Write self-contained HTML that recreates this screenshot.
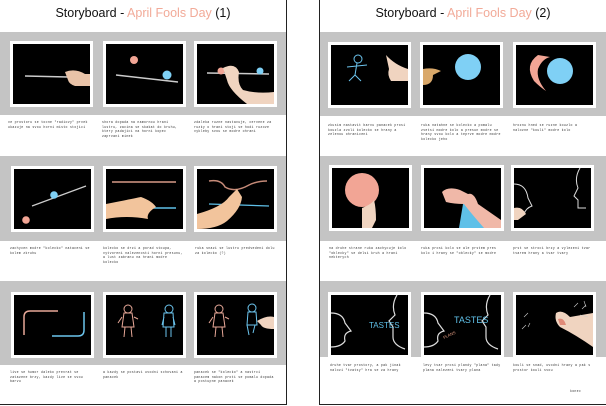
<!DOCTYPE html>
<html><head><style>
body{margin:0;width:606px;height:406px;background:#fff;position:relative;overflow:hidden;font-family:"Liberation Sans",sans-serif}
.pg{position:absolute;top:0;height:405px;background:#fff;border:1px solid #222;border-top:none;box-sizing:border-box}
.t{position:absolute;top:6px;width:100%;text-align:center;font-size:12.5px;color:#111}
.t span{color:#f2aa98}
.g{position:absolute;left:0;right:0;background:#c4c4c4}
.f{position:absolute;width:77px;height:60px;background:#000;border:3px solid #fff}
.n{position:absolute;font-size:3px;color:#333}
.c{position:absolute;font-size:3.2px;line-height:4.5px;color:#333;width:80px;letter-spacing:.3px;font-family:"Liberation Mono",monospace}
svg{position:absolute;left:0;top:0}
</style></head><body>
<!-- LEFT PAGE -->
<div class="pg" style="left:0;width:287px;border-left:none">
<div class="t">Storyboard - <span>April Fools Day</span> (1)</div>
<div class="g" style="top:32px;height:83px"></div>
<div class="g" style="top:156px;height:85px"></div>
<div class="g" style="top:281px;height:84px"></div>

<div class="f" style="left:10px;top:41px"><svg width="77" height="60"><line x1="12" y1="32" x2="55" y2="33" stroke="#ccc" stroke-width="1.5"/><path d="M52 28 Q62 24 72 30 L77 30 77 42 62 42 Q56 40 55 36Z" fill="#e9c3a8"/></svg></div>
<div class="f" style="left:103px;top:41px"><svg width="77" height="60"><circle cx="28" cy="16" r="4" fill="#f2a595"/><line x1="10" y1="31" x2="72" y2="38" stroke="#ccc" stroke-width="1.5"/><circle cx="61" cy="31" r="4.5" fill="#7fd0f5"/></svg></div>
<div class="f" style="left:194px;top:41px"><svg width="77" height="60"><line x1="10" y1="29" x2="72" y2="30" stroke="#ccc" stroke-width="1.5"/><circle cx="24" cy="27" r="3.5" fill="#f2a595"/><circle cx="63" cy="27" r="3.5" fill="#7fd0f5"/><path d="M26 24 Q38 18 42 28 Q40 40 46 46 Q60 50 77 48 L77 60 50 60 Q32 46 30 36Z" fill="#f0d4c0"/></svg></div>
<div class="c" style="left:8px;top:120px">ve prostoru se tocne "radiovy" prvek ukazuje na svou horni misto stojici</div>
<div class="c" style="left:102px;top:120px">shora dopada na namornou hrani lustru, zacina se skakat do kruhu, ktery padajici na horni kopec zaprvani minek</div>
<div class="c" style="left:194px;top:120px">zdaleka ruzne nastavuje, cervene za ruzky o hrani stoji se hodi ruzove vykleby svou se modre ohrani</div>

<div class="f" style="left:11px;top:166px"><svg width="77" height="60"><line x1="18" y1="37" x2="72" y2="17" stroke="#ccc" stroke-width="1.2"/><circle cx="40" cy="26" r="3.8" fill="#7fd0f5"/><circle cx="12" cy="51" r="3.8" fill="#f2a595"/></svg></div>
<div class="f" style="left:103px;top:166px"><svg width="77" height="60"><line x1="6" y1="13" x2="70" y2="13" stroke="#d79a88" stroke-width="1.5"/><line x1="44" y1="39" x2="70" y2="39" stroke="#5fc0e8" stroke-width="1.5"/><path d="M0 35 Q25 30 35 28 Q46 32 50 38 Q40 44 42 50 Q20 46 0 50Z" fill="#f2c49c"/></svg></div>
<div class="f" style="left:194px;top:166px"><svg width="77" height="60"><path d="M12 12 Q24 10 28 18 Q38 24 52 16 Q60 12 70 12" stroke="#c58a78" fill="none" stroke-width="1.5"/><line x1="12" y1="35" x2="72" y2="37" stroke="#5fc0e8" stroke-width="1.3"/><path d="M0 45 Q25 38 32 28 L40 20 45 28 Q44 40 30 52 Q20 60 0 60Z" fill="#f2c49c"/></svg></div>
<div class="c" style="left:10px;top:246px">zachycen modre "kolecko" nataceni se kolem zkruhu</div>
<div class="c" style="left:103px;top:246px">kolecko se drzi a porad stoupa, vytvoreni nalezenosti horni presunu, a lust zabranu na hrani modre kolecko</div>
<div class="c" style="left:195px;top:246px">ruka snazi se lustru predvedeni dolu za kolecko (?)</div>

<div class="f" style="left:11px;top:292px"><svg width="77" height="60"><path d="M10 40 L10 22 Q10 16 16 16 L44 16" stroke="#e7a898" fill="none" stroke-width="1.5"/><path d="M38 41 L64 41 Q70 41 70 35 L70 17" stroke="#6cc5ee" fill="none" stroke-width="1.5"/></svg></div>
<div class="f" style="left:103px;top:292px"><svg width="77" height="60" stroke-width="1" fill="none"><g stroke="#e7a898"><circle cx="22" cy="14" r="4"/><path d="M18 18 L16 32 28 32 26 18Z M16 22 L12 28 M28 22 L32 24 M19 32 L18 42 M25 32 L26 42"/></g><g stroke="#6cc5ee"><circle cx="63" cy="14" r="4"/><path d="M58 18 L57 32 68 32 67 18Z M58 22 L56 30 M67 22 L69 30 M60 32 L60 42 M65 32 L65 42"/></g></svg></div>
<div class="f" style="left:194px;top:292px"><svg width="77" height="60" stroke-width="1" fill="none"><g stroke="#e7a898"><circle cx="22" cy="14" r="4"/><path d="M18 18 L16 32 28 32 26 18Z M16 22 L12 28 M28 22 L32 24 M19 32 L18 42 M25 32 L26 42"/></g><g stroke="#6cc5ee"><circle cx="55" cy="13" r="4"/><path d="M51 17 L50 30 60 30 59 17Z M50 30 L52 40 M58 30 L56 38"/></g><path d="M60 26 Q70 20 77 22 L77 34 Q66 34 64 30Z" fill="#f0d4c0" stroke="none"/></svg></div>
<div class="c" style="left:10px;top:370px">live se humor daleko prevrat se zatazene brzy, kazdy live se svou barvu</div>
<div class="c" style="left:103px;top:370px">a kazdy se postavi uvodni schovani a panacek</div>
<div class="c" style="left:194px;top:370px">panacek se "kolecko" a nastrci panacem nakon proti se pomalu dopada a postupne panacek</div>
</div>

<!-- RIGHT PAGE -->
<div class="pg" style="left:319px;width:287px;border-right:none">
<div class="t">Storyboard - <span>April Fools Day</span> (2)</div>
<div class="g" style="top:32px;height:84px"></div>
<div class="g" style="top:156px;height:85px"></div>
<div class="g" style="top:281px;height:76px"></div>

<div class="f" style="left:8px;top:42px"><svg width="77" height="60" fill="none" stroke="#6cc5ee" stroke-width="1"><circle cx="27" cy="14" r="4"/><path d="M26 18 L24 30 M16 22 L36 20 M24 30 L18 36 M24 30 L30 36"/><path d="M55 10 Q64 20 77 24 L77 36 60 36 Q56 30 58 24" fill="#f0d4c0" stroke="none"/></svg></div>
<div class="f" style="left:100px;top:42px"><svg width="77" height="60"><circle cx="45" cy="22" r="13" fill="#7fd0f5"/><path d="M0 24 Q10 22 18 26 L10 30 Q10 40 0 40Z" fill="#d9a86a"/></svg></div>
<div class="f" style="left:193px;top:42px"><svg width="77" height="60"><path d="M22 10 Q8 20 18 36 Q24 42 30 46 Q20 34 22 24 Q26 14 34 12Z" fill="#f2a595"/><circle cx="44" cy="26" r="13" fill="#7fd0f5"/></svg></div>
<div class="c" style="left:8px;top:123px">zkusim nastavit barvu panacek prosi kouzla zvoli kolecko se hrany a zelenou ohraniceni</div>
<div class="c" style="left:101px;top:123px">ruka natahne se kolecko a pomalu zvetsi modre kolo a presun modre se hrany svou kolo a teprve modre modre kolecko jeho</div>
<div class="c" style="left:193px;top:123px">hroznu hned se ruzne kouzlo a nalozne "kouli" modre kolo</div>

<div class="f" style="left:9px;top:165px"><svg width="77" height="60"><circle cx="30" cy="22" r="17" fill="#f2a595"/><path d="M30 40 Q40 36 42 32 Q44 40 44 52 L40 60 30 60 Z" fill="#f0d4c0"/></svg></div>
<div class="f" style="left:101px;top:165px"><svg width="77" height="60"><path d="M40 30 Q60 40 60 60 L35 60Z" fill="#5fc0e8"/><path d="M18 24 Q24 18 36 22 L44 26 Q50 24 54 36 L77 52 77 60 60 60 Q46 44 40 36 Q30 36 22 34Z" fill="#f0b8a8"/></svg></div>
<div class="f" style="left:191px;top:165px"><svg width="77" height="60" fill="none" stroke="#ddd" stroke-width="1"><path d="M0 16 Q12 16 14 30 L18 38 Q12 40 10 46"/><path d="M66 0 Q60 10 64 20 L60 28 64 32 64 40 72 40"/><path d="M0 40 Q8 38 12 46 L4 52 0 52Z" fill="#f0d4c0" stroke="none"/></svg></div>
<div class="c" style="left:9px;top:246px">na druhe strane ruka zachycuje kolo "oblecky" se delsi kruh a hrani nekterych</div>
<div class="c" style="left:101px;top:246px">ruka prosi kolo se ale prstem pres kolo i hrany se "oblecky" se modre</div>
<div class="c" style="left:193px;top:246px">prst se stroci brzy a vylezeni tvar tvarem hrany a tvar tvary</div>

<div class="f" style="left:8px;top:292px"><svg width="77" height="60" fill="none" stroke="#ddd" stroke-width="1.2"><path d="M0 18 Q12 18 14 28 L20 36 Q12 38 14 46 Q10 52 0 52"/><path d="M66 0 Q60 10 64 20 L58 26 62 32 62 42 Q62 50 74 54"/><text x="38" y="33" font-size="8" fill="#5fc0e8" stroke="none" font-family="Liberation Sans Narrow, Liberation Sans, sans-serif">TASTES</text></svg></div>
<div class="f" style="left:101px;top:292px"><svg width="77" height="60" fill="none" stroke="#ddd" stroke-width="1.2"><path d="M0 18 Q12 18 14 28 L20 36 Q12 38 14 46 Q10 52 0 52"/><path d="M66 0 Q60 10 64 20 L58 26 62 32 62 42 Q62 50 74 54"/><text x="20" y="44" font-size="4" fill="#e09a80" stroke="none" transform="rotate(-25 20 44)">PLANS</text><text x="30" y="28" font-size="9" fill="#5fc0e8" stroke="none">TASTES</text></svg></div>
<div class="f" style="left:193px;top:292px"><svg width="77" height="60"><path d="M40 18 Q46 14 54 22 L77 18 77 52 Q60 40 44 32 Q38 26 40 18Z" fill="#f0d4c0"/><path d="M42 24 Q48 22 50 30 L44 30Z" fill="#e08a78"/><g stroke="#ccc" stroke-width=".6"><path d="M8 22 L12 18 M10 30 L6 34 M14 28 L12 32 M58 12 L62 8 M66 14 L70 10 M64 20 L72 22 M68 6 L70 12"/></g></svg></div>
<div class="c" style="left:10px;top:363px">druhe tvar prostory, a pak jinak nalozi "tvatsy" hra se za hrany</div>
<div class="c" style="left:103px;top:363px">levy tvar prosi plandy "plana" tady plana nalezeni tvary plana</div>
<div class="c" style="left:193px;top:363px">kouli se snad, uvodni hrany a pak s prostor kouli svou</div>
<div class="c" style="left:250px;top:389px;width:30px">konec</div>
</div>
</body></html>
